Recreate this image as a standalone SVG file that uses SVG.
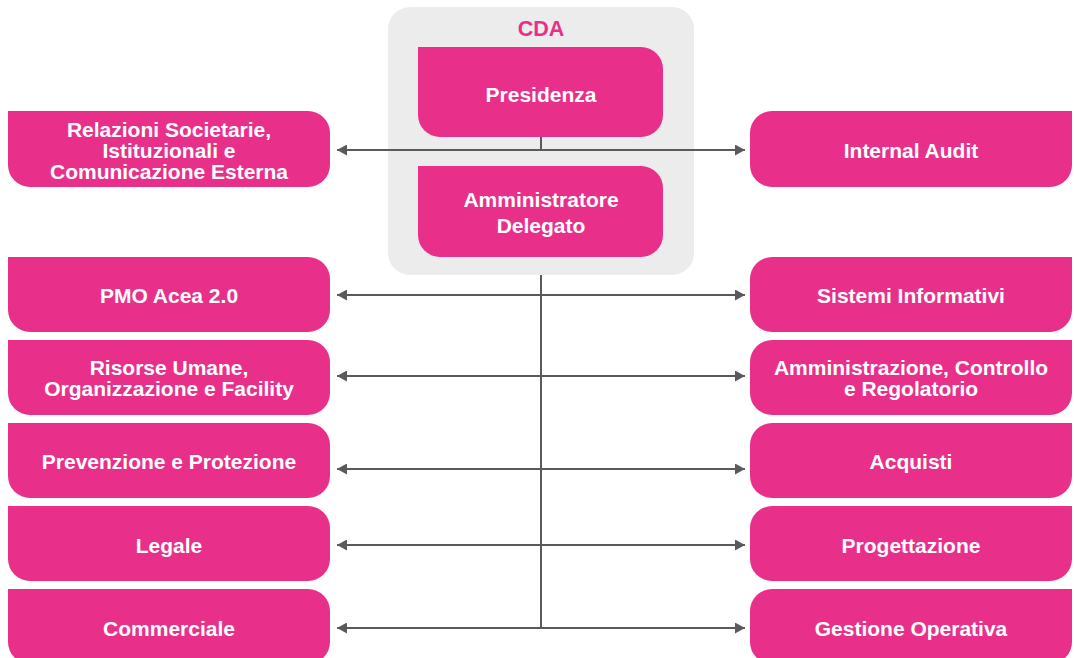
<svg xmlns="http://www.w3.org/2000/svg" width="1074" height="658" viewBox="0 0 1074 658">
<defs>
<style>
.box{fill:#e8308a}
.t{font-family:"Liberation Sans",Arial,sans-serif;font-weight:bold;font-size:21px;fill:#ffffff;text-anchor:middle}
.cda{font-family:"Liberation Sans",Arial,sans-serif;font-weight:bold;font-size:21.5px;fill:#e8308a;text-anchor:middle}
.ln{stroke:#5a5a5a;stroke-width:2;fill:none}
.arr{stroke:#5a5a5a;stroke-width:2;fill:none;marker-start:url(#ah);marker-end:url(#ah)}
</style>
<marker id="ah" viewBox="0 0 10 11" refX="10" refY="5.5" markerWidth="10" markerHeight="11" markerUnits="userSpaceOnUse" orient="auto-start-reverse">
<path d="M0,0 L10,5.5 L0,11 Z" fill="#5a5a5a"/>
</marker>
</defs>
<rect x="0" y="0" width="1074" height="658" fill="#ffffff"/>

<g id="cda">
<rect x="388" y="7" width="306" height="268" rx="22" ry="22" fill="#ececec"/>
<text class="cda" x="541" y="36">CDA</text>
</g>

<g id="connectors">
<line class="ln" x1="541" y1="137" x2="541" y2="150"/>
<line class="ln" x1="541" y1="275" x2="541" y2="628"/>
<line class="arr" x1="337" y1="150" x2="745" y2="150"/>
<line class="arr" x1="337" y1="295" x2="745" y2="295"/>
<line class="arr" x1="337" y1="376" x2="745" y2="376"/>
<line class="arr" x1="337" y1="469" x2="745" y2="469"/>
<line class="arr" x1="337" y1="545" x2="745" y2="545"/>
<line class="arr" x1="337" y1="628" x2="745" y2="628"/>
</g>

<g id="presidenza">
<path class="box" d="M418,47 H641 A22,22 0 0 1 663,69 V115 A22,22 0 0 1 641,137 H440 A22,22 0 0 1 418,115 Z"/>
<text class="t" x="541" y="101.5">Presidenza</text>
</g>
<g id="amministratore">
<path class="box" d="M418,166 H641 A22,22 0 0 1 663,188 V235 A22,22 0 0 1 641,257 H440 A22,22 0 0 1 418,235 Z"/>
<text class="t" x="541" y="206.5">Amministratore</text>
<text class="t" x="541" y="232.5">Delegato</text>
</g>

<g id="relazioni">
<path class="box" d="M8,111 H308 A22,22 0 0 1 330,133 V165 A22,22 0 0 1 308,187 H30 A22,22 0 0 1 8,165 Z"/>
<text class="t" x="169" y="136.5">Relazioni Societarie,</text>
<text class="t" x="169" y="157.5">Istituzionali e</text>
<text class="t" x="169" y="179">Comunicazione Esterna</text>
</g>
<g id="pmo">
<path class="box" d="M8,257 H308 A22,22 0 0 1 330,279 V310 A22,22 0 0 1 308,332 H30 A22,22 0 0 1 8,310 Z"/>
<text class="t" x="169" y="302.5">PMO Acea 2.0</text>
</g>
<g id="risorse">
<path class="box" d="M8,340 H308 A22,22 0 0 1 330,362 V393 A22,22 0 0 1 308,415 H30 A22,22 0 0 1 8,393 Z"/>
<text class="t" x="169" y="374.5">Risorse Umane,</text>
<text class="t" x="169" y="395.5">Organizzazione e Facility</text>
</g>
<g id="prevenzione">
<path class="box" d="M8,423 H308 A22,22 0 0 1 330,445 V476 A22,22 0 0 1 308,498 H30 A22,22 0 0 1 8,476 Z"/>
<text class="t" x="169" y="468.5">Prevenzione e Protezione</text>
</g>
<g id="legale">
<path class="box" d="M8,506 H308 A22,22 0 0 1 330,528 V559 A22,22 0 0 1 308,581 H30 A22,22 0 0 1 8,559 Z"/>
<text class="t" x="169" y="552.5">Legale</text>
</g>
<g id="commerciale">
<path class="box" d="M8,589 H308 A22,22 0 0 1 330,611 V642 A22,22 0 0 1 308,664 H30 A22,22 0 0 1 8,642 Z"/>
<text class="t" x="169" y="635.5">Commerciale</text>
</g>

<g id="internal-audit">
<path class="box" d="M772,111 H1072 V165 A22,22 0 0 1 1050,187 H772 A22,22 0 0 1 750,165 V133 A22,22 0 0 1 772,111 Z"/>
<text class="t" x="911" y="157.5">Internal Audit</text>
</g>
<g id="sistemi">
<path class="box" d="M772,257 H1072 V310 A22,22 0 0 1 1050,332 H772 A22,22 0 0 1 750,310 V279 A22,22 0 0 1 772,257 Z"/>
<text class="t" x="911" y="302.5">Sistemi Informativi</text>
</g>
<g id="amministrazione">
<path class="box" d="M772,340 H1072 V393 A22,22 0 0 1 1050,415 H772 A22,22 0 0 1 750,393 V362 A22,22 0 0 1 772,340 Z"/>
<text class="t" x="911" y="374.5">Amministrazione, Controllo</text>
<text class="t" x="911" y="395.5">e Regolatorio</text>
</g>
<g id="acquisti">
<path class="box" d="M772,423 H1072 V476 A22,22 0 0 1 1050,498 H772 A22,22 0 0 1 750,476 V445 A22,22 0 0 1 772,423 Z"/>
<text class="t" x="911" y="468.5">Acquisti</text>
</g>
<g id="progettazione">
<path class="box" d="M772,506 H1072 V559 A22,22 0 0 1 1050,581 H772 A22,22 0 0 1 750,559 V528 A22,22 0 0 1 772,506 Z"/>
<text class="t" x="911" y="552.5">Progettazione</text>
</g>
<g id="gestione">
<path class="box" d="M772,589 H1072 V642 A22,22 0 0 1 1050,664 H772 A22,22 0 0 1 750,642 V611 A22,22 0 0 1 772,589 Z"/>
<text class="t" x="911" y="635.5">Gestione Operativa</text>
</g>
</svg>
